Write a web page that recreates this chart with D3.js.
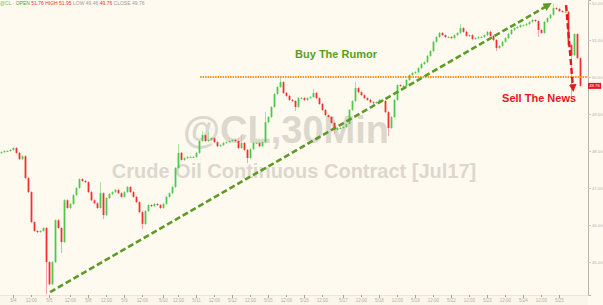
<!DOCTYPE html>
<html>
<head>
<meta charset="utf-8">
<script src="https://cdn.jsdelivr.net/npm/d3@7"></script>
<style>
body { margin: 0; background: #fffaf0; }
</style>
</head>
<body>
<div id="canvas"></div>
<script>
"use strict"

/* Configuration variables: drawing */
let svgWidth = 603;
let svgHeight = 305;
let plotRight = 588;
let plotBottom = 295;

/* 30 min closes left to right */
let firstOpen = 47.95;
let closes = [
    47.97, 48.00, 48.00, 48.03, 48.08, 47.95, 47.78, 47.86, 47.27, 46.89,
    46.08, 45.84, 45.81, 45.84, 45.92, 45.00, 44.40, 45.00, 46.13, 45.92,
    45.54, 46.67, 46.46, 46.57, 46.81, 47.00, 47.24, 47.19, 47.16, 46.89,
    46.67, 46.59, 46.46, 46.86, 46.27, 46.73, 46.84, 46.89, 46.95, 46.86,
    46.76, 46.89, 47.03, 46.89, 46.76, 46.62, 46.35, 46.03, 46.38, 46.54,
    46.51, 46.57, 46.54, 46.46, 46.57, 46.76, 46.86, 47.03, 47.54, 47.95,
    47.76, 47.81, 47.84, 47.84, 47.84, 47.95, 48.27, 48.43, 48.27, 48.30,
    48.35, 48.24, 48.13, 48.16, 48.22, 48.24, 48.27, 48.30, 48.27, 48.08,
    48.22, 48.03, 47.81, 48.05, 48.22, 48.22, 48.13, 48.24, 48.78, 48.92,
    49.19, 49.54, 49.73, 49.86, 49.57, 49.49, 49.38, 49.35, 49.19, 49.43,
    49.43, 49.38, 49.43, 49.46, 49.57, 49.43, 49.27, 49.11, 48.97, 48.92,
    48.76, 48.57, 48.62, 48.62, 48.65, 48.73, 49.11, 49.35, 49.70, 49.59,
    49.51, 49.43, 49.38, 49.32, 49.30, 49.32, 49.38, 49.35, 49.05, 48.62,
    48.92, 49.38, 49.78, 49.76, 49.76, 49.92, 50.05, 50.11, 50.13, 50.24,
    50.35, 50.40, 50.57, 50.70, 50.95, 51.08, 51.19, 51.13, 51.08, 51.08,
    51.05, 51.13, 51.19, 51.32, 51.22, 51.11, 51.13, 51.03, 51.05, 51.08,
    51.08, 51.13, 51.22, 51.11, 51.00, 50.78, 50.84, 50.95, 51.05, 51.16,
    51.27, 51.32, 51.35, 51.40, 51.40, 51.43, 51.49, 51.54, 51.51, 51.27,
    51.19, 51.49, 51.59, 51.68, 51.86, 51.84, 51.78, 51.76, 51.76, 50.86,
    50.59, 51.16, 50.51, 49.76
];

// long wicks that stick out of the bodies
let wickSpikes = [
    {i: 15, low: 44.16}, {i: 20, low: 45.27}, {i: 33, high: 47.13},
    {i: 34, low: 46.19}, {i: 47, low: 45.92}, {i: 59, high: 48.16},
    {i: 67, high: 48.51}, {i: 69, high: 48.49}, {i: 80, high: 48.40},
    {i: 82, low: 47.70}, {i: 88, high: 49.03}, {i: 93, high: 49.97},
    {i: 98, low: 49.11}, {i: 104, high: 49.65}, {i: 111, low: 48.49},
    {i: 118, high: 49.84}, {i: 129, low: 48.43}, {i: 153, high: 51.40},
    {i: 165, low: 50.73}, {i: 179, low: 51.11}, {i: 184, high: 51.95},
    {i: 190, low: 49.46}
];

let priceTicks = [45, 46, 47, 48, 49, 50, 51, 52];

let dateTickIndex = [4, 16, 29, 41, 54, 65, 77, 89, 101, 114, 126, 138, 150, 162, 174, 186];
let dateTickLabels = ["5/4", "5/5", "5/8", "5/9", "5/10", "5/11", "5/12", "5/15",
    "5/16", "5/17", "5/18", "5/19", "5/22", "5/23", "5/24", "5/25"];
let noonTickIndex = [10, 23, 35, 47, 59, 71, 83, 95, 107, 120, 132, 144, 156, 168, 180];

/* annotations, in bar index / price */
let resistancePrice = 50.00;
let resistanceStart = 66.7;
let buyArrow = [{t: 16.7, price: 44.19}, {t: 182.7, price: 51.94}];
let sellArrow = [{t: 188.7, price: 51.94}, {t: 191.0, price: 49.70}];
let buyLabel = {t: 112, price: 50.51, text: "Buy The Rumor"};
let sellLabel = {t: 179.7, price: 49.32, text: "Sell The News"};

let upColor = "#4cc94c";
let downColor = "#f2302f";

/* Create drawing canvas */
let svg = d3.select("#canvas")
    .append("svg")
    .attr("width", svgWidth)
    .attr("height", svgHeight)
    .style("display", "block")
    .style("font-family", "Liberation Sans, Arial, sans-serif");

svg.append("rect")
    .attr("width", svgWidth)
    .attr("height", svgHeight)
    .attr("fill", "#fffaf0");

// Scales
let xScale = d3.scaleLinear()
    .domain([0, closes.length])
    .range([0, closes.length * 3]);

let yScale = d3.scaleLinear()
    .domain([44.11, 52.08])
    .range([plotBottom, 0]);

/* watermark */
svg.append("text")
    .attr("x", 286)
    .attr("y", 143)
    .attr("text-anchor", "middle")
    .attr("font-size", 38)
    .attr("font-weight", "bold")
    .attr("fill", "#dcd8cd")
    .text("@CL,30Min");

svg.append("text")
    .attr("x", 294)
    .attr("y", 178)
    .attr("text-anchor", "middle")
    .attr("font-size", 20)
    .attr("font-weight", "bold")
    .attr("fill", "#dcd8cd")
    .text("Crude Oil Continuous Contract [Jul17]");

/* candles */
let candles = closes.map(function(c, i) {
    let o = i === 0 ? firstOpen : closes[i - 1];
    let hi = Math.max(o, c);
    let lo = Math.min(o, c);
    let spike = wickSpikes.find(function(s) { return s.i === i; });
    if (spike && spike.high) hi = Math.max(hi, spike.high);
    if (spike && spike.low) lo = Math.min(lo, spike.low);
    return {i: i, open: o, close: c, high: hi, low: lo};
});

svg.selectAll("line.wick")
    .data(candles)
    .join("line")
    .attr("class", "wick")
    .attr("x1", function(d) { return xScale(d.i + 0.5); })
    .attr("x2", function(d) { return xScale(d.i + 0.5); })
    .attr("y1", function(d) { return yScale(d.high) - 1; })
    .attr("y2", function(d) { return yScale(d.low) + 1; })
    .attr("stroke", function(d) { return d.close >= d.open ? "#a9e3a2" : "#f7a8a6"; })
    .attr("stroke-width", 1);

svg.selectAll("rect.body")
    .data(candles)
    .join("rect")
    .attr("class", "body")
    .attr("x", function(d) { return xScale(d.i + 0.5) - 0.9; })
    .attr("y", function(d) { return yScale(Math.max(d.open, d.close)); })
    .attr("width", 1.8)
    .attr("height", function(d) {
        return Math.max(1, Math.abs(yScale(d.open) - yScale(d.close)));
    })
    .attr("fill", function(d) { return d.close >= d.open ? upColor : downColor; });

/* right axis */
let yAxis = svg.append("g")
    .attr("transform", "translate(" + plotRight + ",0)")
    .call(d3.axisRight(yScale)
        .tickValues(priceTicks)
        .tickSize(3)
        .tickFormat(d3.format(".2f")));

yAxis.select(".domain").attr("stroke", "#bab5aa");
yAxis.selectAll(".tick line").attr("stroke", "#cfcabf");
yAxis.selectAll(".tick text")
    .attr("x", 4)
    .attr("font-size", 4.2)
    .attr("fill", "#b4afa4");

/* bottom axis */
svg.append("rect")
    .attr("x", 0)
    .attr("y", plotBottom)
    .attr("width", plotRight)
    .attr("height", svgHeight - plotBottom)
    .attr("fill", "#fbf6ea");

svg.append("line")
    .attr("x1", 0)
    .attr("x2", plotRight)
    .attr("y1", plotBottom + 0.5)
    .attr("y2", plotBottom + 0.5)
    .attr("stroke", "#ece7da");

let xTicks = dateTickIndex.map(function(idx, k) { return {t: idx, label: dateTickLabels[k], big: true}; })
    .concat(noonTickIndex.map(function(idx) { return {t: idx, label: "12:00", big: false}; }));

svg.selectAll("line.xtick")
    .data(xTicks)
    .join("line")
    .attr("class", "xtick")
    .attr("x1", function(d) { return xScale(d.t + 0.5); })
    .attr("x2", function(d) { return xScale(d.t + 0.5); })
    .attr("y1", plotBottom)
    .attr("y2", function(d) { return d.big ? plotBottom + 3 : plotBottom + 2; })
    .attr("stroke", "#aaa59a");

svg.selectAll("text.xlabel")
    .data(xTicks)
    .join("text")
    .attr("class", "xlabel")
    .attr("x", function(d) { return xScale(d.t + 0.5); })
    .attr("y", plotBottom + 7)
    .attr("text-anchor", "middle")
    .attr("font-size", 4.5)
    .attr("fill", "#b4afa4")
    .text(function(d) { return d.label; });

/* orange dotted level */
svg.append("line")
    .attr("x1", xScale(resistanceStart))
    .attr("x2", plotRight)
    .attr("y1", yScale(resistancePrice))
    .attr("y2", yScale(resistancePrice))
    .attr("stroke", "#ff8f1f")
    .attr("stroke-width", 2)
    .attr("stroke-dasharray", "1.5,1");

/* arrows */
let defs = svg.append("defs");
function addHead(id, color) {
    defs.append("marker")
        .attr("id", id)
        .attr("viewBox", "0 0 10 10")
        .attr("refX", 5)
        .attr("refY", 5)
        .attr("markerWidth", 3.2)
        .attr("markerHeight", 3.2)
        .attr("orient", "auto")
        .append("path")
        .attr("d", "M0,0 L10,5 L0,10 z")
        .attr("fill", color);
}
addHead("headGreen", "#5d9a26");
addHead("headRed", "#e8161b");

svg.append("line")
    .attr("x1", xScale(buyArrow[0].t))
    .attr("y1", yScale(buyArrow[0].price))
    .attr("x2", xScale(buyArrow[1].t))
    .attr("y2", yScale(buyArrow[1].price))
    .attr("stroke", "#5d9a26")
    .attr("stroke-width", 2.6)
    .attr("stroke-dasharray", "6,3")
    .attr("marker-end", "url(#headGreen)");

svg.append("line")
    .attr("x1", xScale(sellArrow[0].t))
    .attr("y1", yScale(sellArrow[0].price))
    .attr("x2", xScale(sellArrow[1].t))
    .attr("y2", yScale(sellArrow[1].price))
    .attr("stroke", "#e8161b")
    .attr("stroke-width", 2.4)
    .attr("stroke-dasharray", "6,3")
    .attr("marker-end", "url(#headRed)");

/* annotation texts */
svg.append("text")
    .attr("x", xScale(buyLabel.t))
    .attr("y", yScale(buyLabel.price))
    .attr("text-anchor", "middle")
    .attr("font-size", 11)
    .attr("font-weight", "bold")
    .attr("fill", "#5a9e1e")
    .text(buyLabel.text);

svg.append("text")
    .attr("x", xScale(sellLabel.t))
    .attr("y", yScale(sellLabel.price))
    .attr("text-anchor", "middle")
    .attr("font-size", 11)
    .attr("font-weight", "bold")
    .attr("fill", "#e8161b")
    .text(sellLabel.text);

/* last price tag */
let lastClose = closes[closes.length - 1];
svg.append("rect")
    .attr("x", plotRight)
    .attr("y", yScale(lastClose) - 3)
    .attr("width", 13)
    .attr("height", 6)
    .attr("fill", "#e8161b");

svg.append("text")
    .attr("x", plotRight + 6.5)
    .attr("y", yScale(lastClose) + 1.5)
    .attr("text-anchor", "middle")
    .attr("font-size", 4.2)
    .attr("fill", "white")
    .text(d3.format(".2f")(lastClose));

/* legend strip at the very top */
let legend = svg.append("text")
    .attr("x", 0)
    .attr("y", 4.5)
    .attr("font-size", 5);
legend.append("tspan").attr("fill", "#6fc24a").text("@CL ");
legend.append("tspan").attr("fill", "#9a9a9a").text("· ");
legend.append("tspan").attr("fill", "#3aa83a").text("OPEN ");
legend.append("tspan").attr("fill", "#f2302f").text("51.76 HIGH 51.95 ");
legend.append("tspan").attr("fill", "#9a9a9a").text("LOW 49.46 ");
legend.append("tspan").attr("fill", "#f2302f").text("49.76 ");
legend.append("tspan").attr("fill", "#9a9a9a").text("CLOSE 49.76");
</script>
</body>
</html>
